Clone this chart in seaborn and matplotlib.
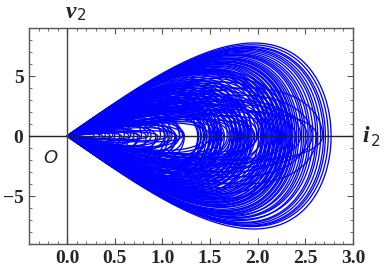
import matplotlib
matplotlib.use("Agg")
import matplotlib.pyplot as plt
from matplotlib.ticker import MultipleLocator
import seaborn as sns
import numpy as np
import pandas as pd

# loops of the attractor: right extent on the i2 axis, peak and trough of v2
outer_extent = [2.77, 2.74, 2.71, 2.66, 2.61, 2.58, 2.55, 2.50, 2.46, 2.43, 2.39, 2.36,
                2.34, 2.32, 2.30, 2.28, 2.26, 2.24, 2.22, 2.20, 2.18, 2.16, 2.14, 2.12,
                2.10, 2.08, 2.06, 2.04, 2.01, 1.93, 1.91, 1.89, 1.87, 1.85, 1.83, 1.81,
                1.79, 1.77, 1.75, 1.73, 1.71, 1.61, 1.59, 1.57, 1.55, 1.53, 1.51, 1.49,
                1.46, 1.43, 1.40, 1.37]
outer_peak = [7.75, 7.60, 7.45, 7.30, 7.15, 7.05, 6.95, 6.80, 6.70, 6.60, 6.45, 6.35,
              6.25, 6.15, 6.05, 5.40, 5.95, 5.20, 5.80, 5.00, 5.60, 4.80, 5.50, 4.60,
              5.40, 4.40, 5.30, 4.20, 5.20, 5.10, 4.00, 4.90, 3.80, 4.70, 3.60, 4.50,
              3.40, 4.30, 3.20, 4.10, 3.00, 4.20, 3.50, 2.80, 4.00, 3.10, 2.60, 3.80,
              2.90, 2.40, 3.40, 2.20]
outer_trough = [-7.75, -7.55, -7.50, -7.35, -7.20, -6.95, -7.05, -6.85, -6.60, -6.70, -6.55, -6.40,
                -6.30, -6.25, -6.10, -5.90, -5.80, -5.70, -5.60, -5.50, -5.35, -5.20, -5.10, -5.00,
                -4.90, -4.80, -4.70, -4.60, -4.50, -5.00, -4.80, -4.40, -4.60, -4.20, -4.40, -4.00,
                -4.20, -3.80, -4.00, -3.60, -3.40, -4.10, -3.80, -3.40, -3.00, -3.60, -2.80, -3.30,
                -3.60, -2.60, -3.10, -2.90]

mid_extent = [2.69, 2.63, 2.53, 2.48, 2.41, 2.37, 2.35, 2.33, 2.31, 2.29, 2.27, 2.25,
              2.23, 2.21, 2.19, 2.17, 2.15, 2.13, 2.11, 2.09, 2.07, 2.05, 2.03, 1.94,
              1.92, 1.90, 1.88, 1.86, 1.84, 1.82, 1.80, 1.78, 1.76, 1.74, 1.72, 1.62,
              1.60, 1.58, 1.56, 1.54, 1.52, 1.50, 1.47, 1.44, 1.41, 1.38]
mid_peak = [7.40, 7.25, 6.85, 6.75, 6.50, 6.40, 4.90, 6.20, 4.50, 6.00, 4.10, 5.85,
            3.80, 5.70, 3.50, 5.55, 3.30, 5.45, 3.10, 5.35, 2.90, 5.25, 2.70, 4.60,
            2.60, 4.40, 2.50, 4.20, 2.40, 4.00, 2.30, 3.80, 2.20, 3.60, 2.10, 3.90,
            2.30, 3.70, 2.10, 3.30, 2.00, 3.00, 1.90, 2.70, 1.80, 2.50]
mid_trough = [-7.45, -7.25, -6.80, -6.80, -6.50, -6.45, -5.20, -6.20, -4.80, -5.95, -4.30, -5.75,
              -4.00, -5.55, -3.70, -5.45, -3.50, -5.30, -3.30, -5.20, -3.10, -5.05, -2.90, -4.70,
              -2.80, -4.50, -2.70, -4.30, -2.60, -4.10, -2.50, -3.90, -2.40, -3.70, -2.30, -3.90,
              -2.50, -3.60, -2.30, -3.40, -2.20, -3.10, -2.10, -2.80, -2.00, -2.60]

fill_extent = [1.02, 1.06, 1.10, 1.14, 1.18, 1.22, 1.65, 1.68, 1.97, 1.99, 2.40, 2.45,
               2.52, 2.57, 2.62, 2.68, 1.45, 1.64, 1.96, 2.25, 2.00, 1.70, 1.50, 2.15,
               2.35, 1.80, 1.90, 2.05]
fill_peak = [2.30, 1.20, 2.00, 1.00, 1.70, 0.90, 2.00, 3.20, 1.80, 3.50, 2.20, 3.00,
             2.60, 3.40, 2.00, 4.00, 1.50, 1.20, 1.40, 1.70, 2.20, 1.60, 1.10, 2.60,
             2.90, 1.40, 2.80, 3.10]
fill_trough = [-1.30, -2.30, -1.10, -2.00, -0.90, -1.70, -3.10, -2.00, -3.40, -1.90, -3.00, -2.30,
               -3.40, -2.60, -4.00, -2.00, -1.20, -1.50, -1.80, -2.40, -1.60, -2.10, -1.40, -3.00,
               -2.00, -2.70, -1.50, -2.40]

inner_extent = [0.28, 0.34, 0.40, 0.45, 0.50, 0.55, 0.60, 0.65, 0.70, 0.74,
                0.78, 0.83, 0.88, 0.93, 0.98, 1.03, 1.08, 1.13, 1.18, 1.23,
                0.37, 0.48, 0.57, 0.67, 0.76, 0.85, 0.95, 1.05, 1.15, 1.21]
inner_peak = [0.55, 0.35, 0.90, 0.30, 1.20, 0.50, 1.40, 0.40, 1.00, 0.60,
              1.60, 0.50, 1.20, 0.80, 2.00, 0.90, 1.50, 0.70, 2.20, 1.20,
              0.20, 0.70, 0.25, 0.80, 0.30, 1.00, 0.35, 1.30, 0.45, 1.70]
inner_trough = [-0.40, -0.60, -0.30, -0.95, -0.50, -1.30, -0.45, -1.40, -0.70, -1.20,
                -0.55, -1.70, -0.90, -1.50, -0.80, -2.00, -1.00, -1.60, -1.30, -2.30,
                -0.80, -0.20, -0.90, -0.25, -1.10, -0.30, -1.20, -0.40, -1.90, -0.50]

extent = outer_extent + mid_extent + fill_extent + inner_extent
peak = outer_peak + mid_peak + fill_peak + inner_peak
trough = outer_trough + mid_trough + fill_trough + inner_trough

# each loop leaves the origin, turns at its extent and comes back
s = np.linspace(0, np.pi, 240)
rows = []
for n, (a, p, q) in enumerate(zip(extent, peak, trough)):
    x = a * np.sin(s)
    c = np.cos(s)
    y = np.where(c > 0, 2 * p * np.sin(s) * c, -2 * q * np.sin(s) * c)
    rows.append(pd.DataFrame({"i2": x, "v2": y, "loop": n}))
df = pd.concat(rows, ignore_index=True)

sns.set_style("ticks")
fig = plt.figure(figsize=(3.84, 2.73), dpi=100)
ax = fig.add_axes([29 / 384, 1 - 244 / 273, 324 / 384, 216 / 273])

sns.lineplot(data=df, x="i2", y="v2", units="loop", estimator=None, sort=False,
             color="#0000ff", lw=0.95, ax=ax, legend=False)

ax.axhline(0, color="#222222", lw=1.0, zorder=5)
ax.axvline(0, color="#444444", lw=1.0, zorder=5)

ax.xaxis.set_minor_locator(MultipleLocator(0.1))
ax.yaxis.set_minor_locator(MultipleLocator(1))
ax.set_yticks([-5, 0, 5])
ax.set_yticklabels(["\u22125", "0", "5"])
ax.set_xticks([0.0, 0.5, 1.0, 1.5, 2.0, 2.5, 3.0])
ax.set_xticklabels(["0.0", "0.5", "1.0", "1.5", "2.0", "2.5", "3.0"])
ax.set_xlim(-0.4, 3.0)
ax.set_ylim(-9, 9)
ax.tick_params(which="both", direction="in", top=True, right=True, color="#555555")
ax.tick_params(which="major", length=4, width=0.8, pad=4)
ax.tick_params(which="minor", length=2.5, width=0.6)
for lab in ax.get_xticklabels() + ax.get_yticklabels():
    lab.set_family("Liberation Serif")
    lab.set_weight("bold")
    lab.set_fontsize(14)
for sp in ax.spines.values():
    sp.set_color("#555555")
    sp.set_linewidth(1.0)
ax.set_xlabel("")
ax.set_ylabel("")

fig.text(66 / 384, 1 - 12 / 273, "v", family="Liberation Serif", style="italic",
         weight="bold", fontsize=17, va="center", ha="left")
fig.text(77 / 384, 1 - 16 / 273, "2", family="DejaVu Sans", fontsize=11,
         va="center", ha="left")
fig.text(362 / 384, 1 - 137 / 273, "i", family="Liberation Serif", style="italic",
         weight="bold", fontsize=17, va="center", ha="left")
fig.text(371 / 384, 1 - 142 / 273, "2", family="DejaVu Sans", fontsize=11,
         va="center", ha="left")
fig.text(50 / 384, 1 - 158 / 273, "O", family="DejaVu Sans", style="italic",
         fontsize=13, va="center", ha="center")

fig.savefig("out.png", dpi=100)
